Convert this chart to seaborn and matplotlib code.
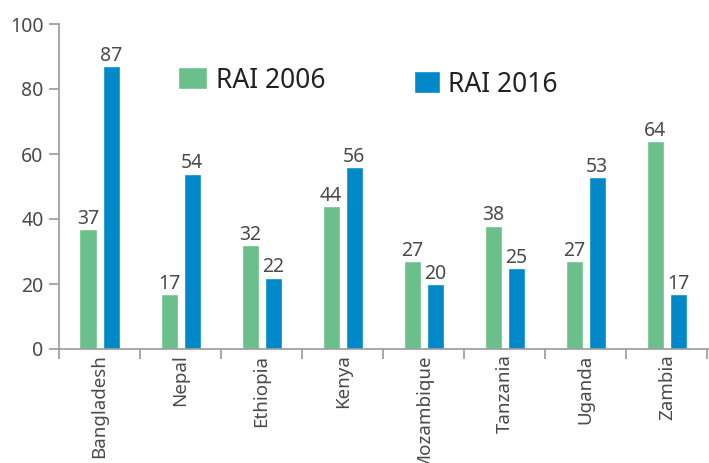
import matplotlib
matplotlib.use("Agg")
import matplotlib.pyplot as plt
import seaborn as sns
import pandas as pd
import numpy as np

countries = ["Bangladesh", "Nepal", "Ethiopia", "Kenya", "Mozambique", "Tanzania", "Uganda", "Zambia"]
rai_2006 = [37, 17, 32, 44, 27, 38, 27, 64]
rai_2016 = [87, 54, 22, 56, 20, 25, 53, 17]
series_names = ["RAI 2006", "RAI 2016"]
yticks = [0, 20, 40, 60, 80, 100]

GREEN = "#6BBF8B"
BLUE = "#0088C9"
AX_COL = "#9A9A9A"
TXT = "#4A4A4A"

df = pd.DataFrame({
    "country": countries * 2,
    "series": [series_names[0]] * len(countries) + [series_names[1]] * len(countries),
    "value": rai_2006 + rai_2016,
})

sns.set_theme(style="white")
plt.rcParams["font.family"] = ["Noto Sans", "DejaVu Sans"]

fig = plt.figure(figsize=(7.09, 4.63), dpi=100)
ax = fig.add_axes([59 / 709, 1 - 349 / 463, 650 / 709, 325 / 463])

sns.barplot(data=df, x="country", y="value", hue="series", order=countries,
            hue_order=series_names, palette=[GREEN, BLUE], width=0.568, gap=0.26,
            saturation=1, ax=ax, legend=True)

for cont in ax.containers:
    ax.bar_label(cont, fmt="%d", padding=0, color=TXT, fontsize=14)

ax.set_ylim(0, 100)
ax.set_xlim(-0.5, len(countries) - 0.5 + 0.02)
ax.set_yticks(yticks)
ax.set_yticklabels([str(t) for t in yticks], color=TXT, fontsize=14)
ax.set_xlabel("")
ax.set_ylabel("")

ax.set_xticks(range(len(countries)))
ax.set_xticklabels(countries, rotation=90, color=TXT, fontsize=13.5)
ax.set_xticks(np.arange(-0.5, len(countries), 1.0), minor=True)
ax.tick_params(axis="x", which="major", length=0, pad=4)
ax.tick_params(axis="x", which="minor", length=7, width=1.2, color=AX_COL, direction="out", bottom=True)
ax.tick_params(axis="y", which="major", length=7, width=1.2, color=AX_COL, direction="out", pad=4, left=True)

for s in ["top", "right"]:
    ax.spines[s].set_visible(False)
for s in ["left", "bottom"]:
    ax.spines[s].set_color(AX_COL)
    ax.spines[s].set_linewidth(1.2)

handles, labels = ax.get_legend_handles_labels()
ax.get_legend().remove()
leg1 = fig.legend([handles[0]], [labels[0]], loc="center left",
                  bbox_to_anchor=(178 / 709, 1 - 80.5 / 463), frameon=False,
                  fontsize=19, handlelength=1.08, handleheight=0.9, handletextpad=0.35,
                  borderpad=0, borderaxespad=0, labelcolor="#222222")
leg2 = fig.legend([handles[1]], [labels[1]], loc="center left",
                  bbox_to_anchor=(414 / 709, 1 - 84.5 / 463), frameon=False,
                  fontsize=19, handlelength=1.0, handleheight=0.9, handletextpad=0.3,
                  borderpad=0, borderaxespad=0, labelcolor="#222222")

fig.savefig("out.png", dpi=100)
